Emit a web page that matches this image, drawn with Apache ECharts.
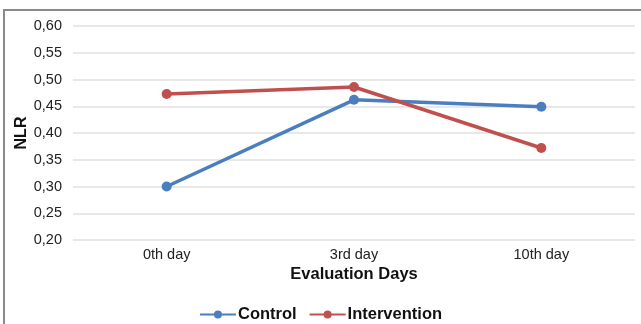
<!DOCTYPE html>
<html><head><meta charset="utf-8">
<script src="https://cdn.jsdelivr.net/npm/echarts@6/dist/echarts.min.js"></script>
<style>html,body{margin:0;padding:0;background:#fff}#c{width:641px;height:324px}</style>
</head><body><div id="c"></div>
<script>
const categories = ['0th day', '3rd day', '10th day'];
const controlValues = [0.300, 0.462, 0.449];
const interventionValues = [0.473, 0.486, 0.372];
const yTicks = [0.20, 0.25, 0.30, 0.35, 0.40, 0.45, 0.50, 0.55, 0.60];

const chart = echarts.init(document.getElementById('c'));
const font = 'Helvetica, "Liberation Sans", Arial, sans-serif';
chart.setOption({
  animation: false,
  backgroundColor: '#fff',
  graphic: [
    { type: 'line', shape: { x1: 3, y1: 10, x2: 641, y2: 10 }, style: { stroke: '#8a8a8a', lineWidth: 2 } },
    { type: 'line', shape: { x1: 4, y1: 9, x2: 4, y2: 324 }, style: { stroke: '#8a8a8a', lineWidth: 2 } }
  ],
  grid: { left: 73, right: 6, top: 26, bottom: 84, outerBoundsMode: 'none', containLabel: false },
  legend: {
    bottom: -4,
    left: 'center',
    itemWidth: 36,
    itemHeight: 10,
    itemGap: 12,
    textStyle: { fontFamily: font, fontSize: 16.5, fontWeight: 'bold', color: '#111', padding: [0, 0, 0, -3] },
    data: ['Control', 'Intervention']
  },
  xAxis: {
    type: 'category',
    data: categories,
    name: 'Evaluation Days',
    nameLocation: 'middle',
    nameGap: 26,
    nameMoveOverlap: false,
    nameTextStyle: { fontFamily: font, fontSize: 16.5, fontWeight: 'bold', color: '#111' },
    axisLine: { show: false },
    axisTick: { show: false },
    axisLabel: { fontFamily: font, fontSize: 14.5, color: '#222', margin: 7 }
  },
  yAxis: {
    type: 'value',
    min: yTicks[0],
    max: yTicks[yTicks.length - 1],
    interval: 0.05,
    name: 'NLR',
    nameLocation: 'middle',
    nameGap: 43,
    nameMoveOverlap: false,
    nameTextStyle: { fontFamily: font, fontSize: 16, fontWeight: 'bold', color: '#111' },
    axisLabel: { fontFamily: font, fontSize: 14.5, color: '#222', margin: 11, formatter: v => v.toFixed(2).replace('.', ',') },
    splitLine: { lineStyle: { color: '#e0e0e0', width: 1.5 } }
  },
  series: [
    { name: 'Control', type: 'line', data: controlValues, color: '#4a7ebf', symbol: 'circle', symbolSize: 10, lineStyle: { width: 3.5 } },
    { name: 'Intervention', type: 'line', data: interventionValues, color: '#c0504d', symbol: 'circle', symbolSize: 10, lineStyle: { width: 3.5 } }
  ]
});
</script></body></html>
